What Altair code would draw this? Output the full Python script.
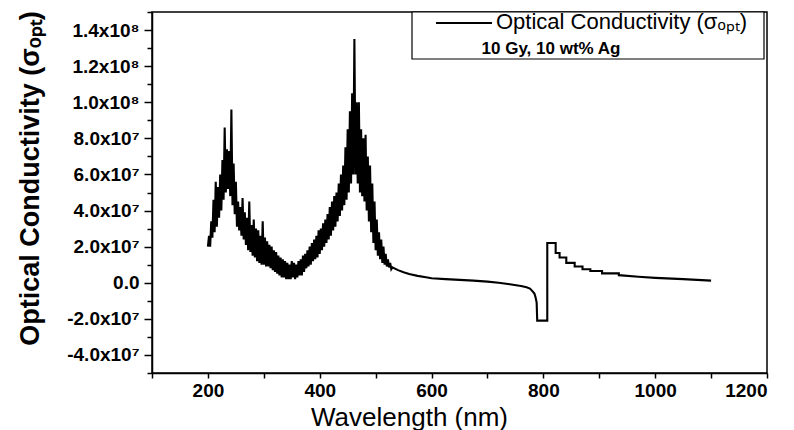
import altair as alt
import pandas as pd

# Optical conductivity spectrum, values in units of 1e7
# Noisy UV-visible part: 200-528 nm sampled every 2 nm
noisy_start_nm = 200
noisy_step_nm = 2
sigma_noisy = [
    2.0, 2.6, 2.0, 3.4, 2.5, 4.6, 2.8, 5.6, 3.1, 5.3,
    3.6, 6.0, 4.0, 6.8, 4.6, 8.6, 5.0, 7.4, 5.2, 7.3,
    4.8, 9.6, 4.3, 6.6, 3.8, 5.6, 3.1, 4.5, 2.9, 4.2,
    2.6, 4.7, 2.4, 3.9, 2.1, 3.6, 1.8, 4.5, 1.7, 3.2,
    1.5, 3.5, 1.4, 3.0, 1.2, 2.9, 1.1, 2.6, 1.0, 3.4,
    1.0, 2.5, 0.9, 2.3, 0.9, 2.1, 0.8, 2.0, 0.7, 1.8,
    0.6, 1.7, 0.5, 1.5, 0.4, 1.4, 0.3, 1.3, 0.3, 1.2,
    0.2, 1.1, 0.2, 1.0, 0.2, 1.2, 0.3, 1.1, 0.2, 1.0,
    0.3, 1.2, 0.4, 1.3, 0.4, 1.5, 0.6, 1.6, 0.8, 1.8,
    0.9, 2.0, 1.0, 2.2, 1.2, 2.4, 1.3, 2.6, 1.4, 2.9,
    1.6, 3.0, 1.8, 3.3, 2.0, 3.5, 2.2, 3.8, 2.4, 4.2,
    2.6, 4.5, 2.9, 4.8, 3.1, 5.0, 3.4, 5.5, 3.7, 6.0,
    4.0, 6.5, 4.3, 7.5, 4.6, 8.5, 5.0, 9.5, 5.5, 10.5,
    6.0, 13.5, 6.0, 10.0, 5.5, 10.0, 5.0, 8.5, 4.8, 8.0,
    4.5, 8.2, 4.0, 7.0, 3.4, 6.5, 2.8, 5.5, 2.2, 4.5,
    1.8, 3.5, 1.5, 2.8, 1.3, 2.4, 1.1, 2.0, 1.0, 1.6,
    0.9, 1.3, 0.85, 1.1, 0.75,
]

# Smooth near-IR part, including the detector-change step near 800 nm
wl_tail = [
    530, 540, 550, 560, 575, 590, 600, 625, 650, 675,
    700, 720, 740, 760, 770, 776, 780, 784, 786, 788,
    789, 807, 807, 822, 822, 829, 829, 841, 841, 856,
    856, 870, 870, 884, 884, 905, 905, 935, 935, 970,
    1000, 1050, 1100,
]
sigma_tail = [
    0.85, 0.7, 0.58, 0.48, 0.38, 0.3, 0.25, 0.2, 0.16, 0.12,
    0.06, 0.0, -0.08, -0.18, -0.25, -0.32, -0.45, -0.6, -0.8, -1.1,
    -2.1, -2.1, 2.2, 2.2, 1.65, 1.65, 1.4, 1.4, 1.1, 1.1,
    0.9, 0.9, 0.75, 0.75, 0.65, 0.65, 0.52, 0.52, 0.42, 0.33,
    0.27, 0.2, 0.12,
]

legend_lines = ["Optical Conductivity (σₒₚₜ)", "10 Gy, 10 wt% Ag"]

x_ticks = [100, 200, 300, 400, 500, 600, 700, 800, 900, 1000, 1100, 1200]
y_ticks = list(range(-5, 16))

wl_noisy = [noisy_start_nm + noisy_step_nm * i for i in range(len(sigma_noisy))]
wavelength = wl_noisy + wl_tail
sigma = sigma_noisy + sigma_tail
df = pd.DataFrame({"wavelength": wavelength, "sigma": sigma, "idx": range(len(sigma))})

FONT = "Liberation Sans"
W, H = 615, 361

y_label_expr = (
    "datum.value % 2 != 0 ? '' : datum.value == 0 ? '0.0' : "
    "replace(abs(datum.value) >= 10 ? format(datum.value / 10, '.1f') + 'x10⁸' "
    ": format(datum.value, '.1f') + 'x10⁷', '−', '-')"
)

curve = alt.Chart(df).mark_line(color="black", strokeWidth=2.1).encode(
    x=alt.X(
        "wavelength:Q",
        scale=alt.Scale(domain=[100, 1200], nice=False, zero=False),
        axis=alt.Axis(
            values=x_ticks,
            labelExpr="datum.value % 200 == 0 ? datum.label : ''",
            format="d",
            tickSize=5,
            labelPadding=3,
            labelFontSize=19,
            labelFontWeight="bold",
            title="Wavelength (nm)",
            titleFontSize=26,
            titleFontWeight="normal",
            titleX=257,
            titleY=44,
            titleBaseline="middle",
            titleAlign="center",
        ),
    ),
    y=alt.Y(
        "sigma:Q",
        scale=alt.Scale(domain=[-5, 15], nice=False, zero=False),
        axis=alt.Axis(
            values=y_ticks,
            labelExpr=y_label_expr,
            tickSize={"condition": {"test": "datum.value % 2 == 0", "value": 8}, "value": 5},
            labelPadding=5,
            labelFontSize=19,
            labelFontWeight="bold",
            title="Optical Conductivity (σₒₚₜ)",
            titleFontSize=27,
            titleFontWeight="bold",
            titleAngle=270,
            titleX=-122,
            titleY=166,
            titleBaseline="middle",
            titleAlign="center",
        ),
    ),
    order=alt.Order("idx:Q"),
)

one = pd.DataFrame({"k": [0]})
legend_box = alt.Chart(one).mark_rect(
    fill="white", stroke="black", strokeWidth=1.2
).encode(x=alt.value(260), x2=alt.value(612), y=alt.value(0), y2=alt.value(47))

legend_sample = alt.Chart(one).mark_rule(color="black", strokeWidth=2).encode(
    x=alt.value(284), x2=alt.value(340), y=alt.value(11)
)

legend_entry = alt.Chart(pd.DataFrame({"label": [legend_lines[0]]})).mark_text(
    align="left", baseline="middle", fontSize=22, font=FONT, color="black"
).encode(x=alt.value(344), y=alt.value(10), text="label:N")

legend_note = alt.Chart(pd.DataFrame({"label": [legend_lines[1]]})).mark_text(
    align="center", baseline="middle", fontSize=17, fontWeight="bold", font=FONT, color="black"
).encode(x=alt.value(399), y=alt.value(37), text="label:N")

chart = (
    alt.layer(curve, legend_box, legend_sample, legend_entry, legend_note)
    .properties(
        width=W,
        height=H,
        autosize=alt.AutoSizeParams(type="none"),
        padding={"left": 152, "top": 12, "right": 27, "bottom": 57},
        background="white",
    )
    .configure_view(stroke="black", strokeWidth=1.5)
    .configure_axis(
        grid=False,
        domainColor="black",
        domainWidth=1.5,
        tickColor="black",
        tickWidth=1.5,
        labelColor="black",
        titleColor="black",
        labelFont=FONT,
        titleFont=FONT,
    )
)

chart.save("out.html", embed_options={"renderer": "svg", "actions": False})
